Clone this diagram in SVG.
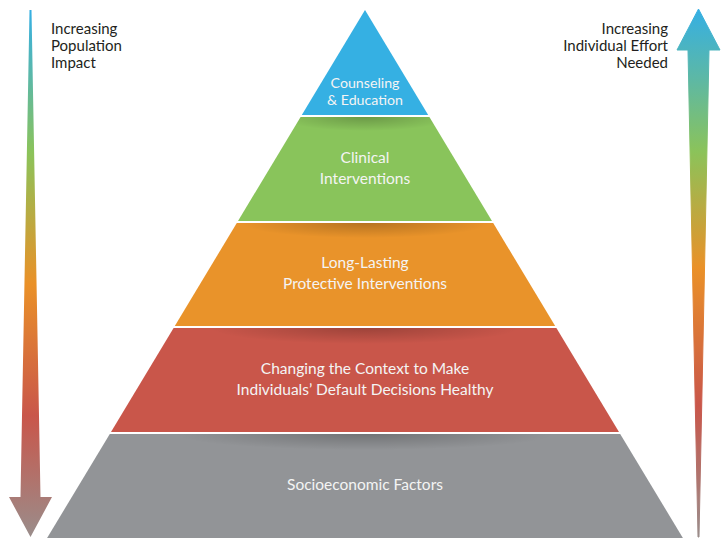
<svg xmlns="http://www.w3.org/2000/svg" width="726" height="538" viewBox="0 0 726 538">
<style>
.lbl{font-family:Lato,"Open Sans","Liberation Sans",sans-serif;fill:#F4F4F4;text-anchor:middle;font-size:15.5px}
.side{font-family:Lato,"Open Sans","Liberation Sans",sans-serif;fill:#231F20;font-size:15px}
</style>
<defs>
<linearGradient id="gl" gradientUnits="userSpaceOnUse" x1="0" y1="10" x2="0" y2="537">
<stop offset="0" stop-color="#35AFE4"/>
<stop offset="0.13" stop-color="#5CB8A6"/>
<stop offset="0.27" stop-color="#8BC35A"/>
<stop offset="0.52" stop-color="#EA9128"/>
<stop offset="0.77" stop-color="#C9564A"/>
<stop offset="1" stop-color="#9A8D8B"/>
</linearGradient>
<linearGradient id="gr" gradientUnits="userSpaceOnUse" x1="0" y1="9" x2="0" y2="537">
<stop offset="0" stop-color="#35AFE4"/>
<stop offset="0.13" stop-color="#5CB8A6"/>
<stop offset="0.27" stop-color="#8BC35A"/>
<stop offset="0.49" stop-color="#EA9128"/>
<stop offset="0.75" stop-color="#C9564A"/>
<stop offset="1" stop-color="#9A8D8B"/>
</linearGradient>
<radialGradient id="sh">
<stop offset="0" stop-color="#000" stop-opacity="0.22"/>
<stop offset="1" stop-color="#000" stop-opacity="0"/>
</radialGradient>
<clipPath id="cg"><polygon points="300.6,117 429.4,117 492,221 238,221"/></clipPath>
<clipPath id="co"><polygon points="236.8,223 493.2,223 555.2,326 174.8,326"/></clipPath>
<clipPath id="cr"><polygon points="173.6,328 556.4,328 619,432 111,432"/></clipPath>
<clipPath id="cy"><polygon points="109.8,434 620.2,434 682.9,538 47.1,538"/></clipPath>
</defs>
<rect width="726" height="538" fill="#FFFFFF"/>

<g id="arrow-left">
<path d="M29.5,10 L31.5,10 L40.5,497 L52,497 L30.5,537 L9,497 L20.5,497 Z" fill="url(#gl)"/>
<text class="side" x="51" y="34">Increasing</text>
<text class="side" x="51" y="51">Population</text>
<text class="side" x="51" y="68">Impact</text>
</g>

<g id="arrow-right">
<path d="M698.5,9 L720,50 L709,50 L699,537 L698,537 L688,50 L677,50 Z" fill="url(#gr)" stroke="url(#gr)" stroke-width="1" stroke-linejoin="round"/>
<text class="side" x="668" y="34" text-anchor="end">Increasing</text>
<text class="side" x="668" y="51" text-anchor="end">Individual Effort</text>
<text class="side" x="668" y="68" text-anchor="end">Needed</text>
</g>

<g id="level-counseling">
<polygon points="365,10 428.2,115 301.8,115" fill="#35B0E3"/>
<text class="lbl" x="365" y="88" style="font-size:14.2px">Counseling</text>
<text class="lbl" x="365" y="105" style="font-size:14.2px">&amp; Education</text>
</g>

<g id="level-clinical">
<polygon points="300.6,117 429.4,117 492,221 238,221" fill="#89C45B"/>
<ellipse cx="365" cy="117" rx="85" ry="14" fill="url(#sh)" clip-path="url(#cg)"/>
<text class="lbl" x="365" y="163">Clinical</text>
<text class="lbl" x="365" y="184">Interventions</text>
</g>

<g id="level-protective">
<polygon points="236.8,223 493.2,223 555.2,326 174.8,326" fill="#E9932A"/>
<ellipse cx="365" cy="223" rx="125" ry="15" fill="url(#sh)" clip-path="url(#co)"/>
<text class="lbl" x="365" y="268">Long-Lasting</text>
<text class="lbl" x="365" y="289">Protective Interventions</text>
</g>

<g id="level-context">
<polygon points="173.6,328 556.4,328 619,432 111,432" fill="#C9564A"/>
<ellipse cx="365" cy="328" rx="155" ry="16" fill="url(#sh)" clip-path="url(#cr)"/>
<text class="lbl" x="365" y="374">Changing the Context to Make</text>
<text class="lbl" x="365" y="395">Individuals’ Default Decisions Healthy</text>
</g>

<g id="level-socioeconomic">
<polygon points="109.8,434 620.2,434 682.9,538 47.1,538" fill="#929497"/>
<ellipse cx="365" cy="434" rx="190" ry="16" fill="url(#sh)" clip-path="url(#cy)"/>
<text class="lbl" x="365" y="490">Socioeconomic Factors</text>
</g>
</svg>
